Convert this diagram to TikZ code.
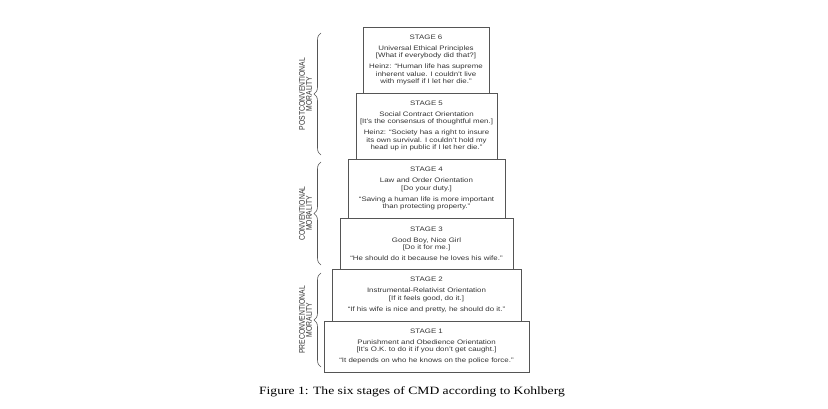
\documentclass[tikz,border=0pt]{standalone}
\usepackage{fontspec}
\setmainfont{Liberation Sans}
\newfontfamily\capfont{Liberation Serif}
\usetikzlibrary{decorations.pathreplacing}
\definecolor{boxgray}{HTML}{555555}
\definecolor{txtgray}{HTML}{333333}
\tikzset{
  squash/.style={yscale=0.82},
  stagebox/.style={draw=boxgray, line width=0.9pt, squash, align=center, text=txtgray,
    inner sep=0pt, outer sep=0pt, font=\fontsize{7.9}{8.9}\selectfont},
  levelname/.style={squash, rotate=90, align=center, text=txtgray,
    font=\fontsize{8.3}{7.2}\selectfont},
  levelbrace/.style={draw=boxgray, line width=0.6pt, decorate,
    decoration={brace, amplitude=7pt}}
}
\begin{document}
\begin{tikzpicture}[x=1pt, y=-1pt]
           \useasboundingbox (0,0) rectangle (828,409);
           \node[stagebox, minimum width=205, minimum height=62.2] (s1) at (426.5,346.5)
             {STAGE 1\\[4.5pt] Punishment and Obedience Orientation\\ {[}It's O.K. to do it if you don't get caught.{]}\\[4.5pt] ``It depends on who he knows on the police force.''};
           \node[stagebox, minimum width=189, minimum height=63.4] (s2) at (426.5,295)
             {STAGE 2\\[4.5pt] Instrumental-Relativist Orientation\\ {[}If it feels good, do it.{]}\\[4.5pt] ``If his wife is nice and pretty, he should do it.''};
           \node[stagebox, minimum width=173, minimum height=62.2] (s3) at (426.5,243.5)
             {STAGE 3\\[4.5pt] Good Boy, Nice Girl\\ {[}Do it for me.{]}\\[4.5pt] ``He should do it because he loves his wife.''};
           \node[stagebox, minimum width=157, minimum height=72] (s4) at (426.5,188.5)
             {STAGE 4\\[4.5pt] Law and Order Orientation\\ {[}Do your duty.{]}\\[4.5pt] ``Saving a human life is more important\\ than protecting property.''};
           \node[stagebox, minimum width=141, minimum height=80.5] (s5) at (426.5,126)
             {STAGE 5\\[4.5pt] Social Contract Orientation\\ {[}It's the consensus of thoughtful men.{]}\\[4.5pt] Heinz: ``Society has a right to insure\\ its own survival. I couldn't hold my\\ head up in public if I let her die.''};
           \node[stagebox, minimum width=126, minimum height=80.5] (s6) at (426,60)
             {STAGE 6\\[4.5pt] Universal Ethical Principles\\ {[}What if everybody did that?{]}\\[4.5pt] Heinz: ``Human life has supreme\\ inherent value. I couldn't live\\ with myself if I let her die.''};
           \coordinate (post-lo) at (321,155);
           \coordinate (post-hi) at (321,33);
           \coordinate (conv-lo) at (321,265);
           \coordinate (conv-hi) at (321,162);
           \coordinate (pre-lo) at (321,367);
           \coordinate (pre-hi) at (321,273);
           \draw[levelbrace] (post-lo) -- (post-hi);
           \draw[levelbrace] (conv-lo) -- (conv-hi);
           \draw[levelbrace] (pre-lo) -- (pre-hi);
           \node[levelname] (post) at (305.5,94) {POSTCONVENTIONAL\\ MORALITY};
           \node[levelname] (conv) at (305.5,213.5) {CONVENTIONAL\\ MORALITY};
           \node[levelname] (pre) at (305.5,320) {PRECONVENTIONAL\\ MORALITY};
           \node[squash, font=\capfont\fontsize{13.6}{16}\selectfont] (caption) at (412,392)
             {Figure 1: The six stages of CMD according to Kohlberg};
         \end{tikzpicture}
\end{document}
